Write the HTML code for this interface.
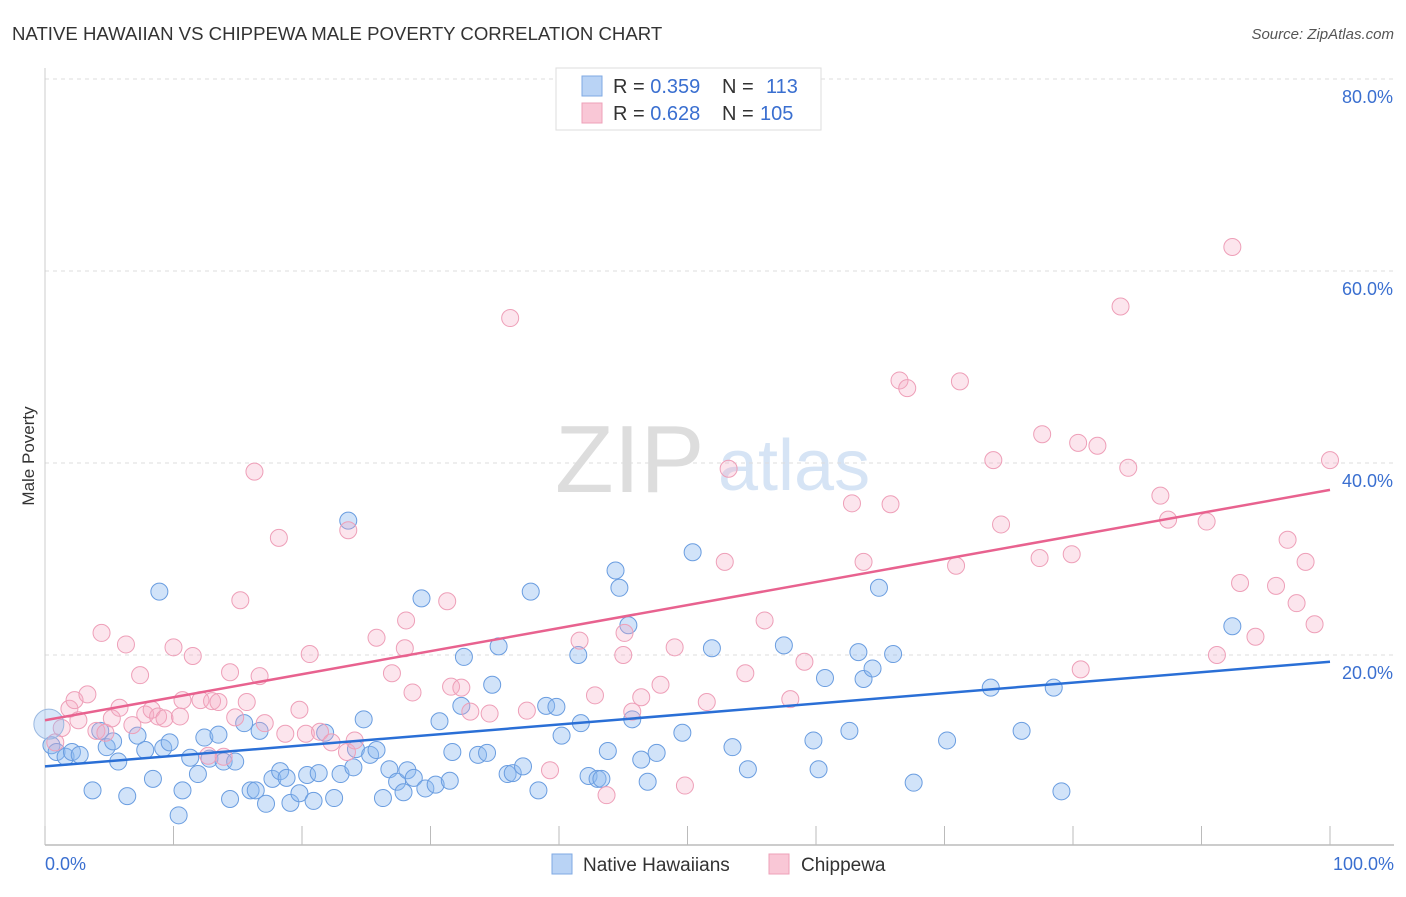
<!DOCTYPE html>
<html><head><meta charset="utf-8"><style>
body{margin:0;background:#fff;font-family:"Liberation Sans",sans-serif}
svg text{font-family:"Liberation Sans",sans-serif}
</style></head><body>
<svg id="chart" width="1406" height="892" xmlns="http://www.w3.org/2000/svg">
<text x="12" y="40" font-size="18.6" fill="#333">NATIVE HAWAIIAN VS CHIPPEWA MALE POVERTY CORRELATION CHART</text>
<text x="1394" y="39" font-size="15" fill="#555" text-anchor="end" font-style="italic">Source: ZipAtlas.com</text>
<text x="34" y="456" font-size="17" fill="#333" text-anchor="middle" transform="rotate(-90 34 456)">Male Poverty</text>
<text x="555" y="492" font-size="96" fill="#ddd" font-family="Liberation Serif">ZIP</text>
<text x="718" y="490" font-size="72" fill="#d6e4f5">atlas</text>
<g id="grid"></g><g id="pts"></g><g id="lines"></g>
<g>
<rect x="556" y="68" width="265" height="62" fill="#fff" stroke="#ddd"/>
<rect x="582" y="76" width="20" height="20" fill="#b9d3f5" stroke="#7fa9e3"/>
<rect x="582" y="103" width="20" height="20" fill="#f9c7d6" stroke="#eea0b8"/>
<text x="613" y="93" font-size="20" fill="#333">R = <tspan fill="#3a6fd0">0.359</tspan><tspan x="722">N = </tspan><tspan x="766" fill="#3a6fd0">113</tspan></text>
<text x="613" y="120" font-size="20" fill="#333">R = <tspan fill="#3a6fd0">0.628</tspan><tspan x="722">N = </tspan><tspan x="760" fill="#3a6fd0">105</tspan></text>
</g>
<g>
<rect x="552" y="854" width="20" height="20" fill="#b9d3f5" stroke="#7fa9e3"/>
<text x="583" y="871" font-size="19" fill="#333">Native Hawaiians</text>
<rect x="769" y="854" width="20" height="20" fill="#f9c7d6" stroke="#eea0b8"/>
<text x="801" y="871" font-size="19" fill="#333">Chippewa</text>
</g>
<text x="45" y="870" font-size="18" fill="#3a6fd0">0.0%</text>
<text x="1394" y="870" font-size="18" fill="#3a6fd0" text-anchor="end">100.0%</text>
</svg>
<script>
const yTicks=[20,40,60,80];
const blueTrend=[8.4,19.3];
const pinkTrend=[13.2,37.2];
const blueX=[0.5,0.9,1.6,2.1,2.7,3.7,4.3,4.8,5.3,5.7,6.4,7.2,7.8,8.4,8.9,9.2,9.7,10.4,10.7,11.3,11.9,12.4,12.8,13.5,13.9,14.4,14.8,15.5,16.0,16.4,16.7,17.2,17.7,18.3,18.8,19.1,19.8,20.4,20.9,21.3,21.8,22.5,23.0,23.6,24.0,24.2,24.8,25.3,25.8,26.3,26.8,27.4,27.9,28.2,28.7,29.3,29.6,30.4,30.7,31.5,31.7,32.4,32.6,33.7,34.4,34.8,35.3,36.0,36.4,37.2,37.8,38.4,39.0,39.8,40.2,41.5,41.7,42.3,43.0,43.3,43.8,44.4,44.7,45.4,45.7,46.4,46.9,47.6,49.6,50.4,51.9,53.5,54.7,57.5,59.8,60.2,60.7,62.6,63.3,63.7,64.4,64.9,66.0,67.6,70.2,73.6,76.0,78.5,79.1,92.4];
const blueY=[10.6,9.9,9.4,9.9,9.6,5.9,12.1,10.4,11.0,8.9,5.3,11.6,10.1,7.1,26.6,10.3,10.9,3.3,5.9,9.3,7.6,11.4,9.2,11.7,8.9,5.0,8.9,12.9,5.9,5.9,12.1,4.5,7.1,7.9,7.2,4.6,5.6,7.5,4.8,7.7,11.9,5.1,7.6,34.0,8.3,10.2,13.3,9.6,10.1,5.1,8.1,6.8,5.7,8.0,7.2,25.9,6.1,6.5,13.1,6.9,9.9,14.7,19.8,9.6,9.8,16.9,20.9,7.6,7.7,8.4,26.6,5.9,14.7,14.6,11.6,20.0,12.9,7.4,7.1,7.1,10.0,28.8,27.0,23.1,13.3,9.1,6.8,9.8,11.9,30.7,20.7,10.4,8.1,21.0,11.1,8.1,17.6,12.1,20.3,17.5,18.6,27.0,20.1,6.7,11.1,16.6,12.1,16.6,5.8,23.0];
const pinkX=[0.8,1.3,1.9,2.3,2.6,3.3,4.0,4.4,4.7,5.2,5.8,6.3,6.8,7.4,7.8,8.3,8.8,9.3,10.0,10.5,10.7,11.5,12.1,12.7,13.0,13.5,13.9,14.4,14.8,15.2,15.7,16.3,16.7,17.1,18.2,18.7,19.8,20.3,20.6,21.4,22.3,23.6,23.5,24.1,25.8,27.0,28.1,28.0,28.6,31.3,31.6,32.4,33.1,34.6,36.2,37.5,39.3,41.6,42.8,43.7,45.0,45.1,45.7,46.4,47.9,49.0,49.8,51.5,52.9,53.2,54.5,56.0,58.0,59.1,62.8,63.7,65.8,66.5,67.1,70.9,71.2,73.8,74.4,77.4,77.6,79.9,80.4,80.6,81.9,84.3,83.7,86.8,87.4,90.4,91.2,92.4,93.0,94.2,95.8,96.7,97.4,98.1,98.8,100];
const pinkY=[10.9,12.4,14.4,15.3,13.2,15.9,12.1,22.3,11.9,13.4,14.5,21.1,12.7,17.9,13.8,14.3,13.6,13.4,20.8,13.6,15.3,19.9,15.3,9.5,15.2,15.1,9.4,18.2,13.5,25.7,15.1,39.1,17.8,12.9,32.2,11.8,14.3,11.8,20.1,12.0,10.9,33.0,9.9,11.1,21.8,18.1,23.6,20.7,16.1,25.6,16.7,16.6,14.1,13.9,55.1,14.2,8.0,21.5,15.8,5.4,20.0,22.3,14.1,15.6,16.9,20.8,6.4,15.1,29.7,39.4,18.1,23.6,15.4,19.3,35.8,29.7,35.7,48.6,47.8,29.3,48.5,40.3,33.6,30.1,43.0,30.5,42.1,18.5,41.8,39.5,56.3,36.6,34.1,33.9,20.0,62.5,27.5,21.9,27.2,32.0,25.4,29.7,23.2,40.3];
const NS='http://www.w3.org/2000/svg';
const X0=45,X1=1330,Y0=847,PY=9.6;
const sx=v=>X0+(X1-X0)*v/100, sy=v=>Y0-v*PY;
function mk(t,a,p){const e=document.createElementNS(NS,t);for(const k in a)e.setAttribute(k,a[k]);p.appendChild(e);return e;}
const grid=document.getElementById('grid');
yTicks.forEach(t=>{
  const l=mk('line',{x1:45,x2:1394,y1:sy(t),y2:sy(t),stroke:'#ddd','stroke-dasharray':'4,4'},grid);
  
  
  const tx=mk('text',{x:1393,y:sy(t)+24,'font-size':18,fill:'#3a6fd0','text-anchor':'end'},grid);
  tx.textContent=t.toFixed(1)+'%';
  
  
});
const ax=mk('line',{x1:45,x2:1394,y1:845,y2:845,stroke:'#bbb','stroke-width':1.5},grid);


const ay=mk('line',{x1:45,x2:45,y1:68,y2:845,stroke:'#ccc'},grid);


for(let i=0;i<=10;i++){
  const tk=mk('line',{x1:sx(i*10),x2:sx(i*10),y1:826,y2:845,stroke:'#bbb'},grid);
  
  
}
const pts=document.getElementById('pts');
blueX.forEach((x,i)=>{
  const c=mk('circle',{cx:sx(x),cy:sy(blueY[i]),r:8.5,fill:'rgba(140,185,240,0.4)',stroke:'#6a9de0','stroke-width':1},pts);
  
  
});
pinkX.forEach((x,i)=>{
  const c=mk('circle',{cx:sx(x),cy:sy(pinkY[i]),r:8.5,fill:'rgba(245,170,195,0.3)',stroke:'#ee9fb8','stroke-width':1},pts);
  
  
});
const bb=mk('circle',{cx:sx(0.3),cy:sy(12.8),r:15,fill:'rgba(140,185,240,0.35)',stroke:'#9ab8e0'},pts);


const ln=document.getElementById('lines');
const bl=mk('line',{x1:sx(0),y1:sy(blueTrend[0]),x2:sx(100),y2:sy(blueTrend[1]),stroke:'#2a6fd6','stroke-width':2.5},ln);


const pl=mk('line',{x1:sx(0),y1:sy(pinkTrend[0]),x2:sx(100),y2:sy(pinkTrend[1]),stroke:'#e8628f','stroke-width':2.5},ln);


</script>
</body></html>
